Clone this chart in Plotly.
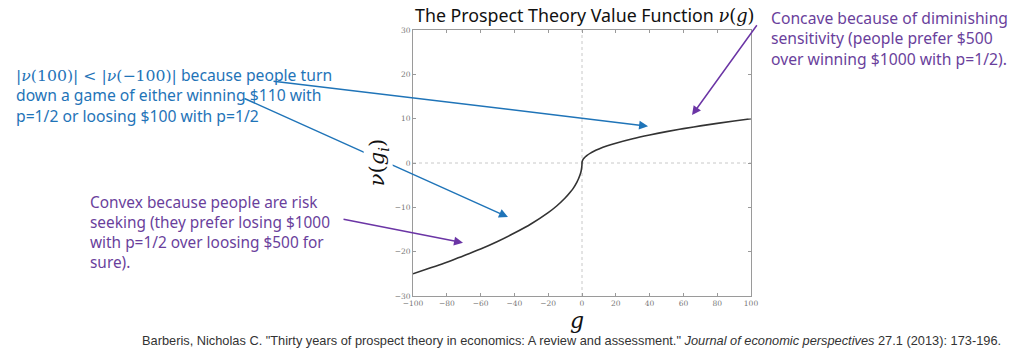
import plotly.graph_objects as go

# ---- data ----
g_vals = [-100, -90, -80, -70, -60, -50, -40, -30, -20, -15, -10, -7, -5, -3, -2, -1, -0.5, -0.2, -0.05, 0,
          0.05, 0.2, 0.5, 1, 2, 3, 5, 7, 10, 15, 20, 30, 40, 50, 60, 70, 80, 90, 100]
v_vals = [-25.0, -23.7, -22.4, -20.9, -19.4, -17.7, -15.8, -13.7, -11.2, -9.7, -7.9, -6.6, -5.6, -4.3, -3.5, -2.5, -1.8, -1.1, -0.56, 0.0,
          0.22, 0.45, 0.71, 1.0, 1.41, 1.73, 2.24, 2.65, 3.16, 3.87, 4.47, 5.48, 6.32, 7.07, 7.75, 8.37, 8.94, 9.49, 10.0]
x_ticks = [-100, -80, -60, -40, -20, 0, 20, 40, 60, 80, 100]
y_ticks = [-30, -20, -10, 0, 10, 20, 30]
x_tick_text = ["\u2212100", "\u221280", "\u221260", "\u221240", "\u221220", "0", "20", "40", "60", "80", "100"]
y_tick_text = ["\u221230", "\u221220", "\u221210", "0", "10", "20", "30"]

title_text = "The Prospect Theory Value Function <span style='font-family:DejaVu Serif'><i>\u03bd</i>(<i>g</i>)</span>"
blue_text = ("<span style='font-family:DejaVu Serif'>|<i>\u03bd</i>(100)| &lt; |<i>\u03bd</i>(\u2212100)|</span> because people turn<br>"
             "down a game of either winning $110 with<br>p=1/2 or loosing $100 with p=1/2")
concave_text = "Concave because of diminishing<br>sensitivity (people prefer $500<br>over winning $1000 with p=1/2)."
convex_text = "Convex because people are risk<br>seeking (they prefer losing $1000<br>with p=1/2 over loosing $500 for<br>sure)."
cite_text = ("Barberis, Nicholas C. \"Thirty years of prospect theory in economics: A review and assessment.\" "
             "<i>Journal of economic perspectives</i> 27.1 (2013): 173-196.")

# arrows: (tail_x, tail_y, head_x, head_y) in data units
blue_arrows = [(-183.4, 18.5, 39.1, 8.3), (-200.6, 14.7, -43.8, -12.2)]
purple_arrows = [(104.1, 31.4, 65.1, 10.8), (-142.0, -12.6, -70.4, -18.0)]

BLUE = "#1f74b8"
PURPLE = "#6a3f9c"
PURPLE_LINE = "#6b35a5"

fig = go.Figure()
fig.add_trace(go.Scatter(x=g_vals, y=v_vals, mode="lines", line=dict(color="#333333", width=1.6),
                         line_shape="spline", hoverinfo="skip", showlegend=False))

axis_common = dict(showgrid=False, zeroline=False, showline=True, mirror="ticks", linecolor="#9a9a9a",
                   linewidth=1, ticks="inside", ticklen=3, tickcolor="#9a9a9a",
                   tickfont=dict(family="DejaVu Serif", size=7.5, color="#777777"))
fig.update_xaxes(range=[-100, 100], tickvals=x_ticks, ticktext=x_tick_text, **axis_common)
fig.update_yaxes(range=[-30, 30], tickvals=y_ticks, ticktext=y_tick_text, **axis_common)

# dotted zero lines
fig.add_shape(type="line", x0=0, x1=0, y0=-30, y1=30, xref="x", yref="y",
              line=dict(color="#c8c8c8", width=1, dash="dot"), layer="below")
fig.add_shape(type="line", x0=-100, x1=100, y0=0, y1=0, xref="x", yref="y",
              line=dict(color="#c8c8c8", width=1, dash="dot"), layer="below")

anns = []
for (tx, ty, hx, hy) in blue_arrows:
    anns.append(dict(x=hx, y=hy, ax=tx, ay=ty, xref="x", yref="y", axref="x", ayref="y", text="",
                     showarrow=True, arrowhead=2, arrowsize=1.2, arrowwidth=1.5, arrowcolor=BLUE))
for (tx, ty, hx, hy) in purple_arrows:
    anns.append(dict(x=hx, y=hy, ax=tx, ay=ty, xref="x", yref="y", axref="x", ayref="y", text="",
                     showarrow=True, arrowhead=2, arrowsize=1.2, arrowwidth=1.5, arrowcolor=PURPLE_LINE))

# y axis label with white background (interrupts the arrow)
anns.append(dict(x=-0.103, y=0.5, xref="paper", yref="paper", xanchor="center", yanchor="middle",
                 text="<i>\u03bd</i>(<i>g<sub>i</sub></i>)", textangle=-90, showarrow=False,
                 font=dict(family="DejaVu Serif", size=21, color="#111111"), bgcolor="white"))
# x axis label
anns.append(dict(x=0.485, y=-0.037, xref="paper", yref="paper", xanchor="center", yanchor="top",
                 text="<i>g</i>", showarrow=False, font=dict(family="DejaVu Serif", size=22, color="#111111")))
# title
anns.append(dict(x=0.51, y=1.0 + 15 / 266, xref="paper", yref="paper", xanchor="center", yanchor="middle",
                 borderpad=0, text=title_text, showarrow=False,
                 font=dict(family="Noto Sans", size=17.8, color="#111111")))
# blue text
anns.append(dict(x=(14 - 413) / 338, y=(296 - 62) / 266, xref="paper", yref="paper", xanchor="left", yanchor="top",
                 text=blue_text, align="left", showarrow=False, font=dict(family="Noto Sans", size=15.7, color=BLUE)))
# concave text
anns.append(dict(x=(769 - 413) / 338, y=(296 - 5) / 266, xref="paper", yref="paper", xanchor="left", yanchor="top",
                 text=concave_text, align="left", showarrow=False, font=dict(family="Noto Sans", size=15.7, color=PURPLE)))
# convex text
anns.append(dict(x=(88 - 413) / 338, y=(296 - 190) / 266, xref="paper", yref="paper", xanchor="left", yanchor="top",
                 text=convex_text, align="left", showarrow=False, font=dict(family="Noto Sans", size=15.4, color=PURPLE)))
# citation
anns.append(dict(x=(571 - 413) / 338, y=(296 - 331) / 266, xref="paper", yref="paper", xanchor="center", yanchor="top",
                 text=cite_text, showarrow=False, font=dict(family="Liberation Sans", size=12.8, color="#333333")))

fig.update_layout(width=1012, height=355, margin=dict(l=405, r=269, t=22, b=67),
                  plot_bgcolor="white", paper_bgcolor="white", annotations=anns, showlegend=False)

fig.write_html("out.html")
